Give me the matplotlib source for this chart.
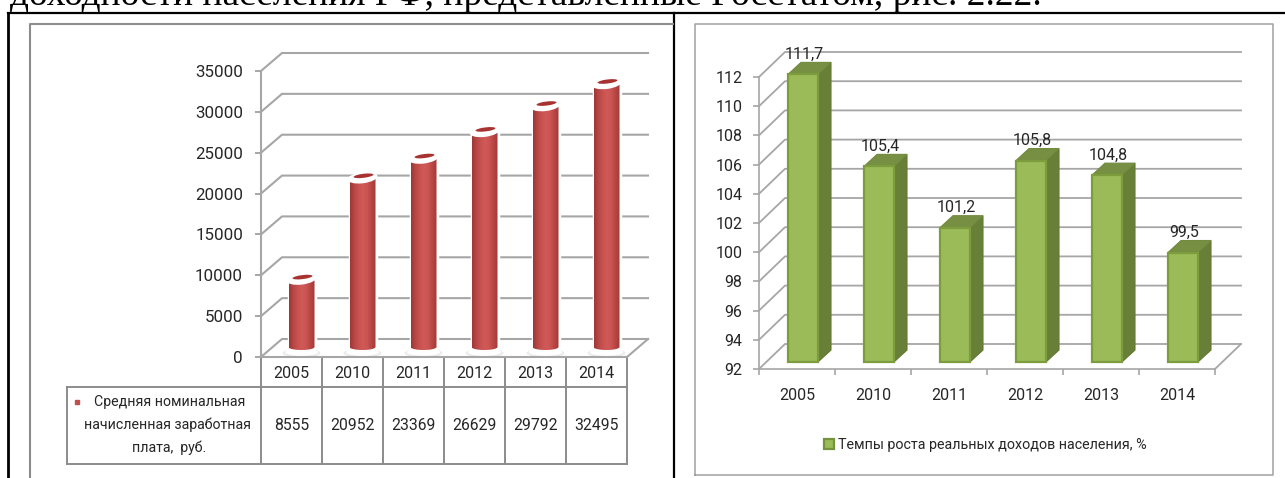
"""Two Russian income charts pasted in a document table: wages (cylinders) and real income growth (boxes)."""

import matplotlib
matplotlib.use("Agg")
import matplotlib.pyplot as plt
import numpy as np
from matplotlib.colors import LinearSegmentedColormap
from matplotlib.patches import Ellipse, Polygon
from matplotlib.path import Path
from matplotlib.transforms import Affine2D, IdentityTransform

# --------------------------------------------------------
# 1. Data
# --------------------------------------------------------
years = ["2005", "2010", "2011", "2012", "2013", "2014"]
wages = [8555, 20952, 23369, 26629, 29792, 32495]
wage_ticks = [0, 5000, 10000, 15000, 20000, 25000, 30000, 35000]
wage_lines = ["Средняя номинальная", "начисленная заработная", "плата,  руб."]

growth = [111.7, 105.4, 101.2, 105.8, 104.8, 99.5]
growth_labels = ["111,7", "105,4", "101,2", "105,8", "104,8", "99,5"]
growth_ticks = [92, 94, 96, 98, 100, 102, 104, 106, 108, 110, 112]
growth_legend = "Темпы роста реальных доходов населения, %"
page_text = "доходности населения РФ, представленные Росстатом, рис. 2.22."

GRID = "#a6a6a6"
TEXT = "#262626"
W, H = 1285, 478
FONT = ["Roboto", "DejaVu Sans"]

fig = plt.figure(figsize=(W / 100, H / 100), dpi=100, facecolor="white")

# --------------------------------------------------------
# 2. Page: document text, table borders, chart frames
# --------------------------------------------------------
page = fig.add_axes([0, 0, 1, 1])
page.set_xlim(0, W)
page.set_ylim(H, 0)
page.axis("off")

page.text(10, 5, page_text, family="Liberation Serif", fontsize=27, color="black", va="baseline")
page.plot([8, W], [13, 13], color="black", lw=1.6)
page.plot([8, 8], [13, H], color="black", lw=2)
page.plot([674, 674], [13, H], color="black", lw=1.6)
page.plot([30, 30, 673], [H, 24, 24], color="#8c8c8c", lw=1.5)
page.plot([695, 695, 1273, 1273, 695], [475, 24, 24, 475, 475], color="#a0a0a0", lw=1.1)


def box_axes(x0, x1, y_bottom, y_top):
    ax = fig.add_axes([x0 / W, 1 - y_bottom / H, (x1 - x0) / W, (y_bottom - y_top) / H])
    ax.patch.set_alpha(0)
    for side in ["top", "right"]:
        ax.spines[side].set_visible(False)
    return ax


def depth_lines(ax, ticks, xmax, dx, dy, lw):
    # gridlines go up the side wall and across the back wall
    to_px = ax.transData.transform
    for v in ticks:
        (x0, y0), (x1, y1) = to_px([(0, v), (xmax, v)])
        ax.plot([x0, x0 + dx, x1 + dx], [y0, y0 + dy, y1 + dy], color=GRID, lw=lw,
                transform=IdentityTransform(), clip_on=False, zorder=1)
    (x1, y1) = to_px((xmax, ticks[0]))
    ax.plot([x1, x1 + dx], [y1, y1 + dy], color=GRID, lw=lw,
            transform=IdentityTransform(), clip_on=False, zorder=1)


# --------------------------------------------------------
# 3. Left chart: cylinders
# --------------------------------------------------------
ax1 = box_axes(261, 627, 357, 71)
ax1.set_xlim(0, 6)
ax1.set_ylim(0, 35000)
ax1.set_xticks([])
ax1.set_yticks(wage_ticks)
ax1.tick_params(axis="y", length=4, width=1.4, color=GRID, labelsize=12.2, labelcolor=TEXT, pad=9)
for lab in ax1.get_yticklabels():
    lab.set_family(FONT)
for side in ["left", "bottom"]:
    ax1.spines[side].set_color(GRID)
    ax1.spines[side].set_linewidth(1.5)
depth_lines(ax1, wage_ticks, 6, 21, 18, 1.5)

reds = LinearSegmentedColormap.from_list(
    "cyl", ["#9c3836", "#b84745", "#c85250", "#d05a58", "#cb5452", "#b84543", "#a23b39"])
shade = np.linspace(0, 1, 64).reshape(1, -1)
bar_pos = np.arange(len(years)) + 0.5
bar_w = 26 / 61
lift = ax1.transData + Affine2D().translate(10, 7)

# white bars are the halo round each cylinder, the shaded image is clipped on top
bars = ax1.bar(bar_pos, wages, bar_w, color="white", edgecolor="white", linewidth=2.5,
               transform=lift, clip_on=False, zorder=2.4)
arc = np.linspace(0, np.pi, 24)
for x, v in zip(bar_pos, wages):
    (x0, yb), (x1, yt) = lift.transform([(x - bar_w / 2, 0), (x + bar_w / 2, v)])
    xm = (x0 + x1) / 2
    ax1.add_patch(Ellipse((xm, yb - 3), 38, 9, transform=IdentityTransform(), fc="#ececec", ec="none",
                          clip_on=False, zorder=2.45))
    ax1.add_patch(Ellipse((xm, yb - 2), 33, 8, transform=IdentityTransform(), fc="white", ec="none",
                          clip_on=False, zorder=2.5))
    # rounded foot of the cylinder
    foot_x = xm + (x1 - x0) / 2 * np.cos(arc)
    foot_y = yb + 3 - 3 * np.sin(arc)
    outline = [(x0, yt), (x1, yt)] + list(zip(foot_x, foot_y)) + [(x0, yt)]
    im = ax1.imshow(shade, cmap=reds, aspect="auto", zorder=3.2, extent=[x - bar_w / 2, x + bar_w / 2, -1200, v],
                    transform=lift, clip_on=True)
    im.set_clip_path(Path(outline), IdentityTransform())
    ax1.add_patch(Ellipse((xm, yt + 1), 30, 11, angle=7, transform=IdentityTransform(), fc="white", ec="none",
                          clip_on=False, zorder=3.4))
    ax1.add_patch(Ellipse((xm + 1, yt + 3), 20, 4, angle=7, transform=IdentityTransform(), fc="#a83230",
                          ec="none", clip_on=False, zorder=3.5))
ax1.set_xlim(0, 6)
ax1.set_ylim(0, 35000)

# data table under the cylinders
col_x = [261 + 61 * i for i in range(7)]
for x in col_x:
    page.plot([x, x], [357, 464], color="#8c8c8c", lw=1.4)
page.plot([col_x[0], col_x[-1]], [357, 357], color="#8c8c8c", lw=1.4)
page.plot([67, col_x[-1]], [387, 387], color="#8c8c8c", lw=1.4)
page.plot([67, col_x[-1]], [464, 464], color="#8c8c8c", lw=1.4)
page.plot([67, 67], [387, 464], color="#8c8c8c", lw=1.4)
for i, (year, v) in enumerate(zip(years, wages)):
    cx = (col_x[i] + col_x[i + 1]) / 2
    page.text(cx, 373, year, family=FONT, fontsize=11.5, color=TEXT, ha="center", va="center")
    page.text(cx, 425, str(v), family=FONT, fontsize=11.3, color=TEXT, ha="center", va="center")
for line, y, x in zip(wage_lines, [402, 425, 448], [170, 168, 169]):
    page.text(x, y, line, family=FONT, fontsize=10.2, color=TEXT, ha="center", va="center")
page.plot([77], [402], marker="s", ms=3, color="#c0504d")

# --------------------------------------------------------
# 4. Right chart: boxes
# --------------------------------------------------------
ax2 = box_axes(759, 1215, 369, 77)
ax2.set_xlim(0, 6)
ax2.set_ylim(92, 112)
ax2.set_yticks(growth_ticks)
ax2.set_xticks(range(7))
ax2.set_xticks(bar_pos, years, minor=True)
ax2.tick_params(axis="both", which="major", length=4, width=1.2, color=GRID, labelsize=11.5, labelcolor=TEXT)
ax2.tick_params(axis="y", pad=8)
ax2.tick_params(axis="x", which="major", labelbottom=False)
ax2.tick_params(axis="x", which="minor", length=0, labelsize=11.5, labelcolor=TEXT, pad=14)
for lab in ax2.get_yticklabels() + ax2.get_xticklabels(minor=True):
    lab.set_family(FONT)
for side in ["left", "bottom"]:
    ax2.spines[side].set_color(GRID)
    ax2.spines[side].set_linewidth(1.2)
depth_lines(ax2, growth_ticks, 6, 26, 25, 1.3)

box_w = 30 / 76
box_lift = ax2.transData + Affine2D().translate(6, 7)
box_dx, box_dy = 13, 12
heights = [v - 92 for v in growth]
boxes = ax2.bar(bar_pos, heights, box_w, bottom=92, color="#9bbb59", edgecolor="#7d9c3e", linewidth=1.6,
                transform=box_lift, clip_on=False, zorder=3)
for x, v in zip(bar_pos, growth):
    (x0, y0), (x1, y1), (_, yb) = box_lift.transform([(x - box_w / 2, v), (x + box_w / 2, v), (x, 92)])
    side = [(x1, y1), (x1 + box_dx, y1 + box_dy), (x1 + box_dx, yb + box_dy), (x1, yb)]
    top = [(x0, y1), (x0 + box_dx, y1 + box_dy), (x1 + box_dx, y1 + box_dy), (x1, y1)]
    ax2.add_patch(Polygon(side, closed=True, fc="#677f37", ec="#627a34", lw=0.8, transform=IdentityTransform(),
                          clip_on=False, zorder=2.9))
    ax2.add_patch(Polygon(top, closed=True, fc="#768f42", ec="#728b3f", lw=0.8, transform=IdentityTransform(),
                          clip_on=False, zorder=2.9))

for x, v, label in zip(bar_pos, growth, growth_labels):
    ax2.annotate(label, (x, v), xytext=(7, 27), textcoords="offset pixels", ha="center", va="center",
                 family=FONT, fontsize=11.5, color=TEXT, annotation_clip=False, zorder=5)

page.plot([829], [444], marker="s", ms=7.5, mfc="#9bbb59", mec="#76923c", mew=1.6)
page.text(838, 445, growth_legend, family=FONT, fontsize=10.25, color=TEXT, ha="left", va="center")

# --------------------------------------------------------
# 5. Save
# --------------------------------------------------------
plt.savefig("out.png", dpi=100)
